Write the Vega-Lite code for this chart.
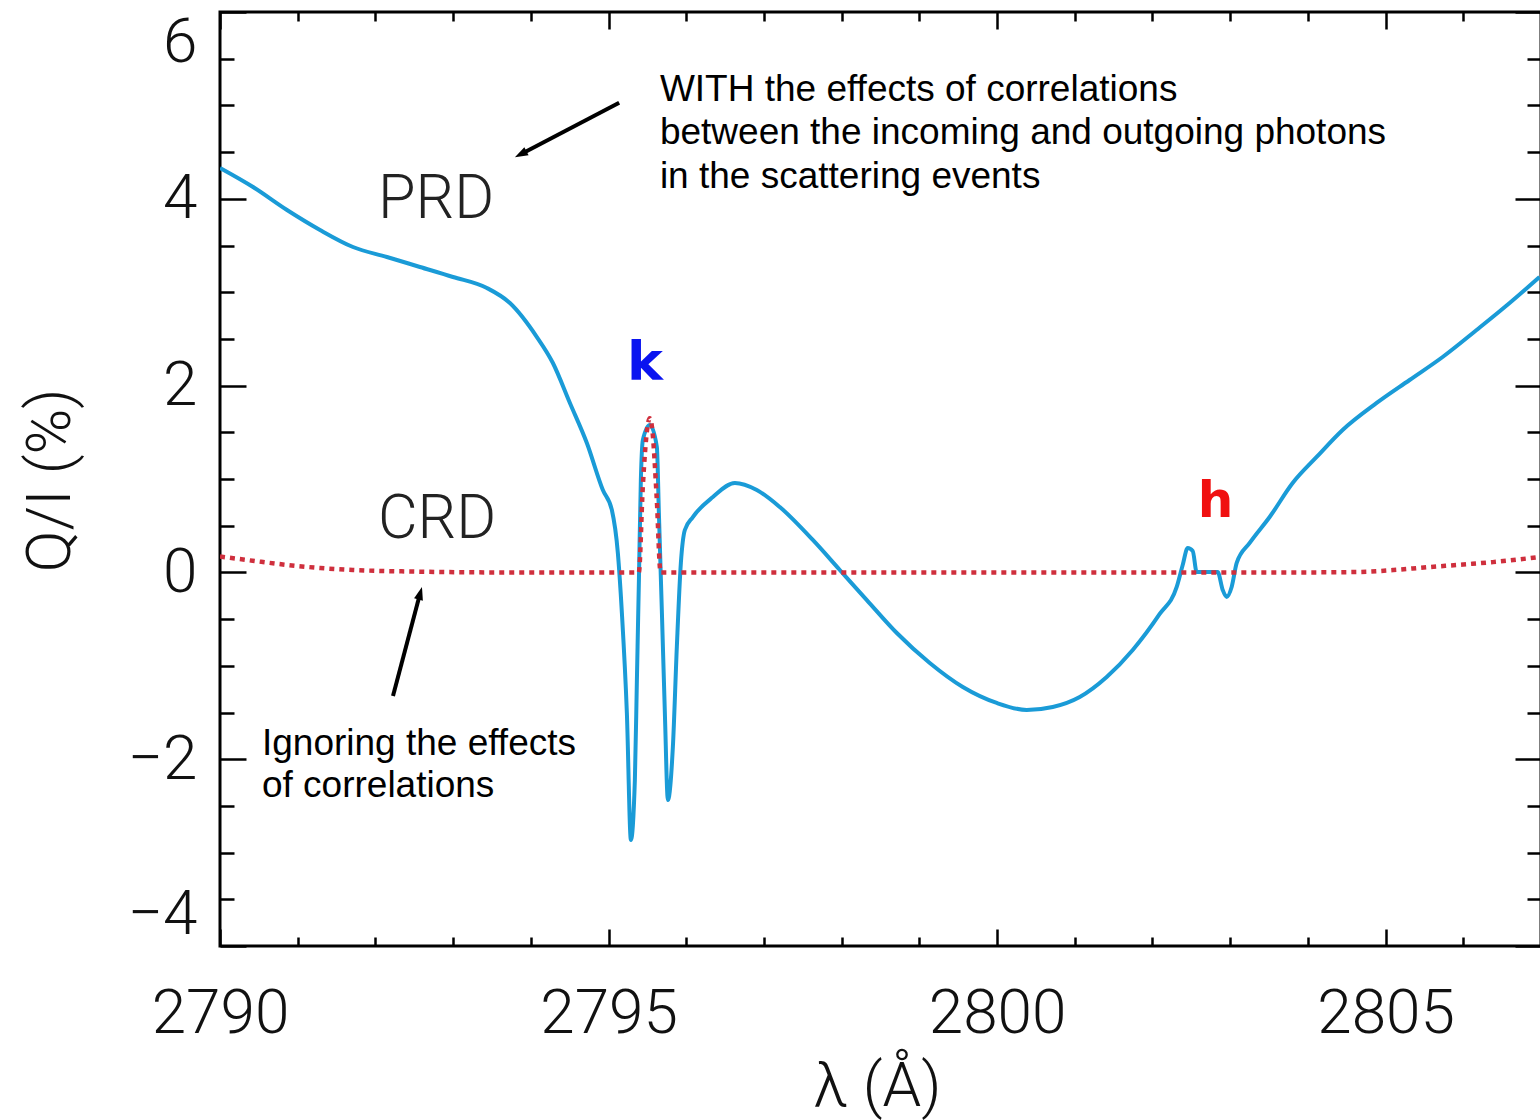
{
  "$schema": "https://vega.github.io/schema/vega-lite/v6.json",
  "width": 1321,
  "height": 934,
  "autosize": {"type": "none"},
  "padding": {"left": 220, "top": 12, "right": 0, "bottom": 174},
  "background": "white",
  "config": {
    "view": {"stroke": "black", "strokeWidth": 3},
    "axis": {
      "domain": false,
      "grid": false,
      "tickColor": "black",
      "tickWidth": 2.5,
      "labelFont": "Roboto",
      "labelFontWeight": 300,
      "labelFontSize": 62,
      "labelColor": "#111111",
      "titleFont": "Roboto",
      "titleFontWeight": 300,
      "titleFontSize": 62,
      "titleColor": "#111111"
    }
  },
  "datasets": {
    "prd": [
      {"wl": 2790.000, "q": 4.330},
      {"wl": 2790.425, "q": 4.126},
      {"wl": 2790.862, "q": 3.880},
      {"wl": 2791.287, "q": 3.666},
      {"wl": 2791.711, "q": 3.484},
      {"wl": 2792.148, "q": 3.377},
      {"wl": 2792.573, "q": 3.270},
      {"wl": 2792.998, "q": 3.163},
      {"wl": 2793.435, "q": 3.045},
      {"wl": 2793.731, "q": 2.884},
      {"wl": 2794.078, "q": 2.520},
      {"wl": 2794.284, "q": 2.242},
      {"wl": 2794.503, "q": 1.814},
      {"wl": 2794.721, "q": 1.385},
      {"wl": 2794.927, "q": 0.882},
      {"wl": 2795.043, "q": 0.668},
      {"wl": 2795.120, "q": 0.208},
      {"wl": 2795.172, "q": -0.435},
      {"wl": 2795.236, "q": -1.505},
      {"wl": 2795.288, "q": -2.865},
      {"wl": 2795.339, "q": -2.223},
      {"wl": 2795.365, "q": -1.152},
      {"wl": 2795.391, "q": -0.081},
      {"wl": 2795.416, "q": 0.989},
      {"wl": 2795.442, "q": 1.418},
      {"wl": 2795.532, "q": 1.578},
      {"wl": 2795.622, "q": 1.343},
      {"wl": 2795.648, "q": 0.636},
      {"wl": 2795.687, "q": -0.435},
      {"wl": 2795.725, "q": -1.505},
      {"wl": 2795.764, "q": -2.437},
      {"wl": 2795.828, "q": -1.869},
      {"wl": 2795.879, "q": -0.799},
      {"wl": 2795.931, "q": 0.101},
      {"wl": 2795.982, "q": 0.454},
      {"wl": 2796.085, "q": 0.593},
      {"wl": 2796.343, "q": 0.807},
      {"wl": 2796.626, "q": 0.957},
      {"wl": 2796.908, "q": 0.882},
      {"wl": 2797.204, "q": 0.700},
      {"wl": 2797.629, "q": 0.347},
      {"wl": 2797.976, "q": 0.026},
      {"wl": 2798.324, "q": -0.296},
      {"wl": 2798.710, "q": -0.649},
      {"wl": 2799.134, "q": -0.970},
      {"wl": 2799.559, "q": -1.227},
      {"wl": 2799.996, "q": -1.398},
      {"wl": 2800.382, "q": -1.473},
      {"wl": 2800.717, "q": -1.441},
      {"wl": 2801.064, "q": -1.334},
      {"wl": 2801.411, "q": -1.120},
      {"wl": 2801.746, "q": -0.831},
      {"wl": 2802.093, "q": -0.445},
      {"wl": 2802.312, "q": -0.156},
      {"wl": 2802.389, "q": 0.079},
      {"wl": 2802.453, "q": 0.261},
      {"wl": 2802.518, "q": 0.229},
      {"wl": 2802.569, "q": 0.004},
      {"wl": 2802.839, "q": 0.004},
      {"wl": 2802.904, "q": -0.188},
      {"wl": 2802.955, "q": -0.263},
      {"wl": 2803.019, "q": -0.156},
      {"wl": 2803.084, "q": 0.101},
      {"wl": 2803.251, "q": 0.315},
      {"wl": 2803.508, "q": 0.593},
      {"wl": 2803.804, "q": 0.957},
      {"wl": 2804.113, "q": 1.236},
      {"wl": 2804.447, "q": 1.525},
      {"wl": 2804.885, "q": 1.814},
      {"wl": 2805.309, "q": 2.060},
      {"wl": 2805.734, "q": 2.306},
      {"wl": 2806.171, "q": 2.595},
      {"wl": 2806.596, "q": 2.884},
      {"wl": 2806.982, "q": 3.163}
    ],
    "crd": [
      {"wl": 2790.00, "q": 0.170},
      {"wl": 2790.42, "q": 0.125},
      {"wl": 2790.86, "q": 0.080},
      {"wl": 2791.29, "q": 0.047},
      {"wl": 2791.71, "q": 0.026},
      {"wl": 2792.57, "q": 0.008},
      {"wl": 2793.50, "q": 0.000},
      {"wl": 2794.50, "q": 0.000},
      {"wl": 2795.39, "q": 0.000},
      {"wl": 2795.44, "q": 0.900},
      {"wl": 2795.50, "q": 1.550},
      {"wl": 2795.53, "q": 1.650},
      {"wl": 2795.56, "q": 1.550},
      {"wl": 2795.62, "q": 0.800},
      {"wl": 2795.67, "q": 0.000},
      {"wl": 2796.50, "q": 0.000},
      {"wl": 2798.00, "q": 0.000},
      {"wl": 2800.00, "q": 0.000},
      {"wl": 2802.00, "q": 0.000},
      {"wl": 2804.00, "q": 0.000},
      {"wl": 2804.67, "q": 0.005},
      {"wl": 2805.10, "q": 0.025},
      {"wl": 2805.53, "q": 0.055},
      {"wl": 2806.00, "q": 0.085},
      {"wl": 2806.38, "q": 0.110},
      {"wl": 2806.98, "q": 0.165}
    ],
    "notes": [
      {"group": "ann", "wl": 2795.661, "q": 5.052, "text": "WITH the effects of correlations"},
      {"group": "ann", "wl": 2795.661, "q": 4.587, "text": "between the incoming and outgoing photons"},
      {"group": "ann", "wl": 2795.661, "q": 4.116, "text": "in the scattering events"},
      {"group": "ann", "wl": 2790.540, "q": -1.955, "text": "Ignoring the effects"},
      {"group": "ann", "wl": 2790.540, "q": -2.405, "text": "of correlations"},
      {"group": "lab", "wl": 2792.033, "q": 3.794, "text": "PRD"},
      {"group": "lab", "wl": 2792.033, "q": 0.368, "text": "CRD"},
      {"group": "k", "wl": 2795.468, "q": 2.060, "text": "k"},
      {"group": "h", "wl": 2802.813, "q": 0.593, "text": "h"}
    ],
    "arrows": [
      {"id": "a1", "tail_wl": 2795.137, "tail_q": 5.029, "back_wl": 2793.932, "back_q": 4.504, "tip_wl": 2793.795, "tip_q": 4.444},
      {"id": "a2", "tail_wl": 2792.226, "tail_q": -1.323, "back_wl": 2792.558, "back_q": -0.280, "tip_wl": 2792.599, "tip_q": -0.156}
    ]
  },
  "layer": [
    {
      "data": {"name": "prd"},
      "mark": {"type": "line", "color": "#1a9bd7", "strokeWidth": 4, "interpolate": "monotone", "clip": true},
      "encoding": {
        "x": {
          "field": "wl", "type": "quantitative",
          "scale": {"domain": [2790, 2807], "nice": false, "zero": false},
          "axis": {
            "orient": "bottom", "values": [2790, 2795, 2800, 2805], "format": "d",
            "tickSize": -17, "labelPadding": 54, "labelFlush": false,
            "title": "λ (Å)", "titleX": 657, "titleY": 159, "titleBaseline": "alphabetic", "titleAlign": "center"
          }
        },
        "y": {
          "field": "q", "type": "quantitative",
          "scale": {"domain": [-4, 6], "nice": false, "zero": false},
          "axis": {
            "orient": "left", "values": [-4, -2, 0, 2, 4, 6], "format": "d",
            "tickSize": -26, "labelPadding": 49, "labelFlush": true, "labelFlushOffset": 0,
            "title": "Q/I (%)", "titleX": -170, "titleY": 468, "titleAngle": -90, "titleBaseline": "middle", "titleAlign": "center"
          }
        }
      }
    },
    {
      "data": {"name": "crd"},
      "mark": {"type": "line", "color": "#cf2f3d", "strokeWidth": 4.5, "strokeDash": [5, 5], "strokeCap": "butt", "interpolate": "monotone", "clip": true},
      "encoding": {
        "x": {
          "field": "wl", "type": "quantitative",
          "scale": {"domain": [2790, 2807], "nice": false, "zero": false},
          "axis": {"orient": "bottom", "values": [2791, 2792, 2793, 2794, 2796, 2797, 2798, 2799, 2801, 2802, 2803, 2804, 2806], "labels": false, "tickSize": -9, "title": null}
        },
        "y": {
          "field": "q", "type": "quantitative",
          "scale": {"domain": [-4, 6], "nice": false, "zero": false},
          "axis": {"orient": "left", "values": [-3.5, -3, -2.5, -1.5, -1, -0.5, 0.5, 1, 1.5, 2.5, 3, 3.5, 4.5, 5, 5.5], "labels": false, "tickSize": -14, "title": null}
        }
      }
    },
    {
      "data": {"name": "arrows"},
      "mark": {"type": "rule", "color": "black", "strokeWidth": 4},
      "encoding": {
        "x": {
          "field": "tail_wl", "type": "quantitative",
          "scale": {"domain": [2790, 2807], "nice": false, "zero": false},
          "axis": {"orient": "top", "values": [2790, 2795, 2800, 2805], "labels": false, "tickSize": -17, "title": null}
        },
        "y": {
          "field": "tail_q", "type": "quantitative",
          "scale": {"domain": [-4, 6], "nice": false, "zero": false},
          "axis": {"orient": "right", "values": [-4, -2, 0, 2, 4, 6], "labels": false, "tickSize": -26, "title": null}
        },
        "x2": {"field": "back_wl"},
        "y2": {"field": "back_q"}
      }
    },
    {
      "data": {"name": "arrows"},
      "transform": [{"filter": "datum.id === 'a1'"}],
      "mark": {"type": "point", "shape": "M0,0 L0.7,2 L-0.7,2 Z", "size": 170, "filled": true, "color": "black", "opacity": 1, "angle": 242.4},
      "encoding": {
        "x": {
          "field": "tip_wl", "type": "quantitative",
          "scale": {"domain": [2790, 2807], "nice": false, "zero": false},
          "axis": {"orient": "top", "values": [2791, 2792, 2793, 2794, 2796, 2797, 2798, 2799, 2801, 2802, 2803, 2804, 2806], "labels": false, "tickSize": -9, "title": null}
        },
        "y": {
          "field": "tip_q", "type": "quantitative",
          "scale": {"domain": [-4, 6], "nice": false, "zero": false},
          "axis": {"orient": "right", "values": [-3.5, -3, -2.5, -1.5, -1, -0.5, 0.5, 1, 1.5, 2.5, 3, 3.5, 4.5, 5, 5.5], "labels": false, "tickSize": -14, "title": null}
        }
      }
    },
    {
      "data": {"name": "arrows"},
      "transform": [{"filter": "datum.id === 'a2'"}],
      "mark": {"type": "point", "shape": "M0,0 L0.7,2 L-0.7,2 Z", "size": 170, "filled": true, "color": "black", "opacity": 1, "angle": 15.4},
      "encoding": {
        "x": {"field": "tip_wl", "type": "quantitative", "scale": {"domain": [2790, 2807], "nice": false, "zero": false}, "axis": null},
        "y": {"field": "tip_q", "type": "quantitative", "scale": {"domain": [-4, 6], "nice": false, "zero": false}, "axis": null}
      }
    },
    {
      "data": {"name": "notes"},
      "transform": [{"filter": "datum.group === 'ann'"}],
      "mark": {"type": "text", "font": "Liberation Sans", "fontSize": 37, "color": "black", "align": "left", "baseline": "alphabetic"},
      "encoding": {
        "x": {"field": "wl", "type": "quantitative", "scale": {"domain": [2790, 2807], "nice": false, "zero": false}, "axis": null},
        "y": {"field": "q", "type": "quantitative", "scale": {"domain": [-4, 6], "nice": false, "zero": false}, "axis": null},
        "text": {"field": "text"}
      }
    },
    {
      "data": {"name": "notes"},
      "transform": [{"filter": "datum.group === 'lab'"}],
      "mark": {"type": "text", "font": "Roboto", "fontWeight": 300, "fontSize": 61, "color": "#222222", "align": "left", "baseline": "alphabetic"},
      "encoding": {
        "x": {"field": "wl", "type": "quantitative", "scale": {"domain": [2790, 2807], "nice": false, "zero": false}, "axis": null},
        "y": {"field": "q", "type": "quantitative", "scale": {"domain": [-4, 6], "nice": false, "zero": false}, "axis": null},
        "text": {"field": "text"}
      }
    },
    {
      "data": {"name": "notes"},
      "transform": [{"filter": "datum.group === 'k'"}],
      "mark": {"type": "text", "font": "DejaVu Sans", "fontWeight": "bold", "fontSize": 54, "color": "#0a14f0", "align": "center", "baseline": "alphabetic"},
      "encoding": {
        "x": {"field": "wl", "type": "quantitative", "scale": {"domain": [2790, 2807], "nice": false, "zero": false}, "axis": null},
        "y": {"field": "q", "type": "quantitative", "scale": {"domain": [-4, 6], "nice": false, "zero": false}, "axis": null},
        "text": {"field": "text"}
      }
    },
    {
      "data": {"name": "notes"},
      "transform": [{"filter": "datum.group === 'h'"}],
      "mark": {"type": "text", "font": "DejaVu Sans", "fontWeight": "bold", "fontSize": 50, "color": "#f01010", "align": "center", "baseline": "alphabetic"},
      "encoding": {
        "x": {"field": "wl", "type": "quantitative", "scale": {"domain": [2790, 2807], "nice": false, "zero": false}, "axis": null},
        "y": {"field": "q", "type": "quantitative", "scale": {"domain": [-4, 6], "nice": false, "zero": false}, "axis": null},
        "text": {"field": "text"}
      }
    }
  ],
  "resolve": {"axis": {"x": "independent", "y": "independent"}}
}
